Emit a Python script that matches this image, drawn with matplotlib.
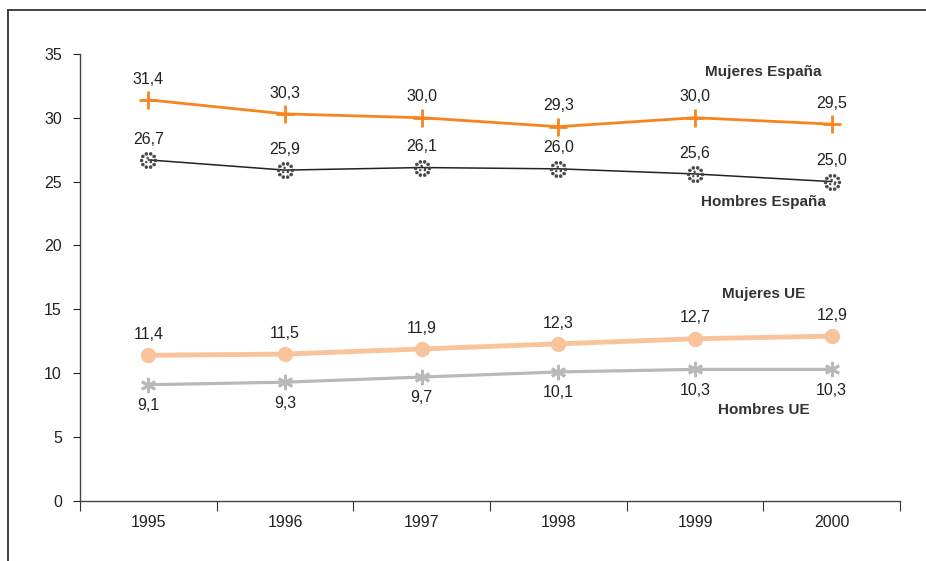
import numpy as np
import matplotlib.pyplot as plt
from matplotlib.lines import Line2D
from matplotlib.path import Path

plt.rcParams['font.family'] = ['Liberation Sans', 'DejaVu Sans']

years = ["1995", "1996", "1997", "1998", "1999", "2000"]
mujeres_es = [31.4, 30.3, 30.0, 29.3, 30.0, 29.5]
hombres_es = [26.7, 25.9, 26.1, 26.0, 25.6, 25.0]
mujeres_ue = [11.4, 11.5, 11.9, 12.3, 12.7, 12.9]
hombres_ue = [9.1, 9.3, 9.7, 10.1, 10.3, 10.3]

x = np.arange(len(years))

# ring of small dots used as the marker for the black series
ang = np.linspace(0, 2 * np.pi, 11)[:-1]
dots = [Path.circle((np.cos(a), np.sin(a)), 0.2) for a in ang]
dots += [Path.circle((0.4 * np.cos(a), 0.4 * np.sin(a)), 0.12) for a in ang[::3]]
ring = Path.make_compound_path(*dots)

fig = plt.figure(figsize=(9.26, 5.61), dpi=100)
ax = fig.add_axes([0.0864, 0.107, 0.8856, 0.797])

ax.plot(x, hombres_ue, color="#b9b9b9", lw=2.3, marker=(6, 2, 0), ms=11, mew=2, zorder=2)
ax.plot(x, mujeres_ue, color="#f9c49c", lw=3.5, marker="o", ms=10, zorder=2)
ax.plot(x, hombres_es, color="#222222", lw=1.1, marker=ring, ms=12, mfc="#444444", mec="#444444",
        mew=0.5, zorder=3)
ax.plot(x, mujeres_es, color="#f7841c", lw=2.0, marker="+", ms=13, mew=2.0, zorder=3)

fs = 11.5
for vals, dy in [(mujeres_es, 15), (hombres_es, 15), (mujeres_ue, 15), (hombres_ue, -15)]:
    for xi, v in zip(x, vals):
        ax.annotate(f"{v:.1f}".replace(".", ","), (xi, v), xytext=(0, dy),
                    textcoords="offset points", ha="center", va="center",
                    fontsize=fs, color="#222222")

for txt, y in [("Mujeres España", 33.6), ("Hombres España", 23.4),
               ("Mujeres UE", 16.2), ("Hombres UE", 7.1)]:
    ax.text(4.5, y, txt, ha="center", va="center", fontsize=11,
            fontweight="bold", color="#333333")

ax.set_xlim(-0.5, 5.5)
ax.set_ylim(0, 35)
ax.set_yticks(range(0, 36, 5))
ax.set_xticks(np.arange(-0.5, 6, 1))
ax.set_xticklabels([])
ax.set_xticks(x, minor=True)
ax.set_xticklabels(years, minor=True)
ax.tick_params(axis="x", which="minor", length=0, pad=10, labelsize=fs, colors="#222222")
ax.tick_params(axis="x", which="major", length=7, direction="out", color="#333333")
ax.tick_params(axis="y", length=5, direction="out", labelsize=fs, colors="#222222", pad=8)
for s in ["top", "right"]:
    ax.spines[s].set_visible(False)
for s in ["left", "bottom"]:
    ax.spines[s].set_color("#444444")
    ax.spines[s].set_linewidth(1)

# outer frame
fig.add_artist(Line2D([8 / 926, 1], [1 - 10 / 561, 1 - 10 / 561], color="#333333", lw=1.3))
fig.add_artist(Line2D([8 / 926, 8 / 926], [0, 1 - 10 / 561], color="#333333", lw=1.3))

fig.savefig("out.png", dpi=100)
